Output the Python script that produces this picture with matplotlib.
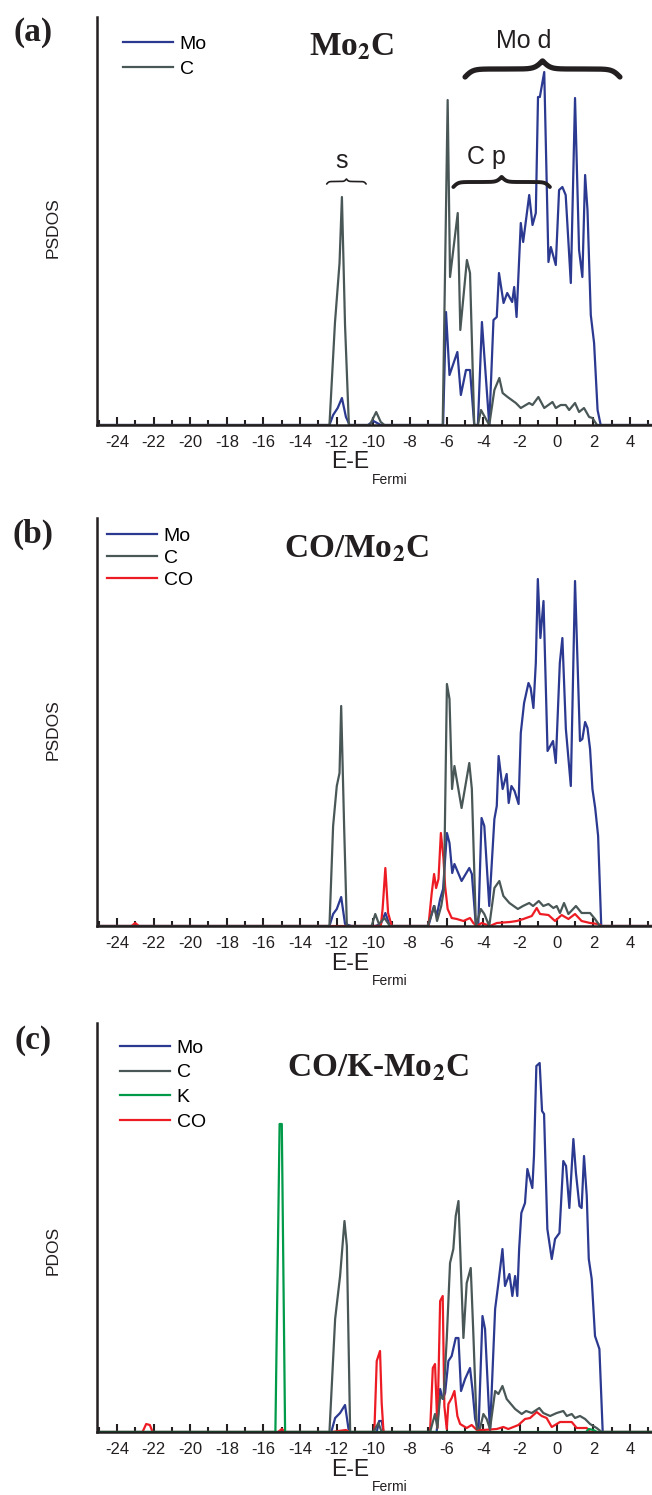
import numpy as np
import matplotlib
matplotlib.use("Agg")
import matplotlib.pyplot as plt

plt.rcParams.update({
    "font.family": "Liberation Sans",
    "mathtext.fontset": "stix",
    "axes.unicode_minus": False,
    "axes.spines.top": False,
    "axes.spines.right": False,
    "axes.linewidth": 1.8,
    "axes.edgecolor": "#231f20",
    "xtick.color": "#231f20",
    "xtick.labelsize": 12,
})

W, H = 652, 1495
MO_COL, C_COL, CO_COL, K_COL = "#2b3990", "#4a5757", "#ed1c24", "#009a49"
INK = "#231f20"

# ---- panel (a): Mo2C ----
a_mo_e = [-25.1, -12.4, -12.2, -11.95, -11.72, -11.5, -11.3, -10.3, -10.0, -9.8, -9.6,
          -6.2, -6.04, -5.85, -5.42, -5.23, -4.95, -4.73, -4.5, -4.3, -4.08, -3.68,
          -3.45, -3.27, -3.15, -2.9, -2.7, -2.43, -2.32, -2.19, -1.96, -1.83, -1.5,
          -1.32, -1.14, -1.02, -0.92, -0.68, -0.45, -0.32, -0.05, 0.13, 0.31, 0.49,
          0.77, 1.0, 1.22, 1.4, 1.55, 1.68, 1.86, 2.04, 2.23, 2.4, 5.2]
a_mo = [0, 0, 0.10, 0.17, 0.27, 0.08, 0, 0, 0.04, 0.02, 0,
        0, 1.13, 0.50, 0.73, 0.30, 0.55, 0.55, 0, 0, 1.03, 0,
        1.05, 1.08, 1.52, 1.22, 1.32, 1.23, 1.38, 1.08, 2.02, 1.83, 2.30,
        2.00, 2.12, 3.28, 3.28, 3.53, 1.63, 1.78, 1.60, 2.35, 2.38, 2.30,
        1.42, 3.27, 1.75, 1.48, 2.50, 2.15, 1.10, 0.82, 0.15, 0, 0]
a_c_e = [-25.1, -12.4, -12.1, -11.85, -11.72, -11.55, -11.34, -10.2, -9.85, -9.6, -9.4,
         -6.22, -5.95, -5.82, -5.4, -5.26, -4.9, -4.73, -4.5, -4.3, -4.13, -3.68,
         -3.4, -3.13, -2.95, -2.68, -2.23, -1.96, -1.5, -1.32, -1.0, -0.68, -0.23,
         -0.05, 0.22, 0.49, 0.68, 1.0, 1.22, 1.49, 1.77, 1.95, 2.2, 5.2]
a_c = [0, 0, 1.02, 1.62, 2.28, 1.0, 0, 0, 0.13, 0.03, 0,
       0, 3.25, 1.48, 2.12, 0.95, 1.65, 1.52, 0, 0, 0.15, 0,
       0.35, 0.47, 0.32, 0.28, 0.22, 0.17, 0.22, 0.20, 0.28, 0.17, 0.23,
       0.17, 0.20, 0.20, 0.15, 0.22, 0.13, 0.17, 0.08, 0.07, 0, 0]

# ---- panel (b): CO/Mo2C ----
b_mo_e = [-25.1, -12.4, -12.2, -12.0, -11.76, -11.55, -11.2, -9.9, -9.6, -9.35, -9.1,
          -7.0, -6.7, -6.55, -6.36, -6.2, -5.99, -5.85, -5.7, -5.58, -5.19, -4.77,
          -4.63, -4.41, -4.28, -4.1, -3.95, -3.68, -3.4, -3.27, -3.17, -2.95, -2.73,
          -2.62, -2.47, -2.3, -2.08, -1.96, -1.78, -1.54, -1.42, -1.27, -1.14, -1.03,
          -0.89, -0.72, -0.5, -0.2, -0.05, 0.17, 0.31, 0.5, 0.77, 1.0, 1.27, 1.4,
          1.55, 1.68, 1.82, 1.95, 2.1, 2.26, 2.43, 5.2]
b_mo = [0, 0, 0.12, 0.17, 0.29, 0.02, 0, 0, 0.02, 0.13, 0,
        0, 0.20, 0.10, 0.27, 0.37, 0.93, 0.83, 0.53, 0.62, 0.45, 0.58,
        0.52, 0, 0, 1.08, 1.00, 0.20, 1.07, 1.20, 1.70, 1.37, 1.52,
        1.23, 1.40, 1.35, 1.22, 1.93, 2.23, 2.43, 2.38, 2.18, 2.63, 3.47,
        2.88, 3.25, 1.75, 1.85, 1.63, 2.63, 2.88, 1.97, 1.40, 3.45, 1.85, 1.87,
        2.04, 1.98, 1.77, 1.37, 1.18, 0.90, 0, 0]
b_c_e = [-25.1, -12.4, -12.2, -12.0, -11.85, -11.76, -11.6, -11.45, -10.1, -9.9, -9.7,
         -9.4, -9.1, -7.04, -6.67, -6.53, -6.3, -6.15, -5.99, -5.85, -5.71, -5.58,
         -5.19, -4.77, -4.63, -4.41, -4.14, -3.95, -3.68, -3.4, -3.13, -2.91, -2.58,
         -2.12, -1.84, -1.5, -1.29, -0.98, -0.73, -0.45, -0.18, 0.0, 0.18, 0.4,
         0.64, 1.05, 1.36, 1.82, 2.09, 2.36, 5.2]
b_c = [0, 0, 1.0, 1.40, 1.53, 2.20, 1.0, 0, 0, 0.12, 0.02,
       0.08, 0, 0, 0.20, 0.05, 0.20, 0.37, 2.42, 2.27, 1.37, 1.60,
       1.18, 1.63, 1.37, 0, 0.17, 0.12, 0, 0.38, 0.45, 0.30, 0.23,
       0.17, 0.20, 0.23, 0.20, 0.25, 0.20, 0.22, 0.18, 0.20, 0.13, 0.23,
       0.12, 0.20, 0.13, 0.13, 0.07, 0, 0]
b_co_e = [-25.1, -23.2, -23.0, -22.8, -9.6, -9.5, -9.35, -9.2, -9.0, -7.0, -6.82,
          -6.69, -6.58, -6.45, -6.32, -6.18, -6.09, -5.95, -5.73, -5.45, -5.09, -4.73,
          -4.55, -4.36, -4.09, -3.64, -3.27, -2.55, -2.18, -1.82, -1.36, -1.09, -0.91,
          -0.45, -0.09, 0.27, 0.64, 1.0, 1.36, 1.82, 2.27, 2.45, 5.2]
b_co = [0, 0, 0.03, 0, 0, 0.17, 0.58, 0.13, 0, 0, 0.33,
        0.52, 0.38, 0.47, 0.93, 0.68, 0.40, 0.17, 0.08, 0.07, 0.05, 0.08,
        0.03, 0, 0.03, 0, 0.03, 0.04, 0.05, 0.07, 0.10, 0.18, 0.12,
        0.11, 0.05, 0.11, 0.07, 0.12, 0.05, 0.03, 0.02, 0, 0]

# ---- panel (c): CO/K-Mo2C ----
c_mo_e = [-25.1, -12.3, -12.09, -11.82, -11.55, -11.36, -11.27, -9.82, -9.69, -9.55, -9.45,
          -6.55, -6.36, -6.22, -6.09, -5.91, -5.73, -5.51, -5.36, -5.22, -5.0, -4.73,
          -4.6, -4.45, -4.27, -4.05, -3.91, -3.64, -3.36, -3.18, -2.96, -2.82, -2.58,
          -2.42, -2.27, -2.15, -2.05, -1.93, -1.73, -1.6, -1.33, -1.24, -1.11, -0.93,
          -0.8, -0.69, -0.51, -0.27, -0.09, 0.15, 0.36, 0.51, 0.69, 0.91, 1.05, 1.24,
          1.36, 1.49, 1.64, 1.75, 1.91, 2.09, 2.33, 2.51, 5.2]
c_mo = [0, 0, 0.14, 0.19, 0.27, 0.03, 0, 0, 0.11, 0.11, 0,
        0, 0.43, 0.33, 0.39, 0.71, 0.76, 0.94, 0.94, 0.41, 0.53, 0.64,
        0.43, 0.13, 0, 1.16, 1.03, 0, 1.23, 1.49, 1.83, 1.46, 1.58,
        1.36, 1.56, 1.36, 1.83, 2.19, 2.29, 2.63, 2.44, 2.76, 3.66, 3.69,
        3.21, 3.18, 2.03, 1.73, 1.93, 1.99, 2.71, 2.66, 2.24, 2.93, 2.59, 2.26,
        2.24, 2.76, 2.36, 1.73, 1.53, 0.96, 0.83, 0, 0]
c_c_e = [-25.1, -12.4, -12.09, -11.82, -11.58, -11.45, -11.27, -10.0, -9.73, -9.55, -6.91,
         -6.64, -6.51, -6.36, -6.18, -6.0, -5.82, -5.64, -5.51, -5.36, -5.09, -4.91,
         -4.69, -4.55, -4.36, -4.18, -4.0, -3.82, -3.64, -3.36, -3.18, -2.96, -2.73,
         -2.27, -1.91, -1.67, -1.36, -0.95, -0.73, -0.36, 0.0, 0.36, 0.55, 0.82,
         1.0, 1.27, 1.55, 1.82, 2.18, 2.45, 5.2]
c_c = [0, 0, 1.13, 1.56, 2.11, 1.86, 0, 0, 0.09, 0, 0,
       0.18, 0.04, 0.36, 0.33, 0.93, 1.69, 1.83, 2.16, 2.31, 0.94, 1.49,
       1.64, 0.99, 0.03, 0.04, 0.18, 0.13, 0.03, 0.41, 0.38, 0.46, 0.33,
       0.23, 0.18, 0.21, 0.19, 0.24, 0.19, 0.16, 0.19, 0.21, 0.16, 0.18,
       0.14, 0.16, 0.13, 0.08, 0.04, 0, 0]
c_k_e = [-25.1, -15.35, -15.12, -15.0, -14.82, 1.6, 1.75, 2.0, 2.2, 5.2]
c_k = [0, 0, 3.08, 3.08, 0, 0, 0.03, 0.02, 0, 0]
c_co_e = [-25.1, -22.6, -22.4, -22.2, -22.05, -15.2, -15.0, -14.8, -12.3, -11.5, -11.3,
          -9.95, -9.82, -9.64, -9.55, -9.45, -6.91, -6.76, -6.64, -6.51, -6.36, -6.22,
          -6.13, -6.0, -5.91, -5.73, -5.58, -5.42, -5.27, -4.91, -4.64, -4.36, -4.0,
          -3.27, -2.91, -2.64, -2.09, -1.73, -1.45, -1.09, -0.82, -0.55, -0.27, 0.18,
          0.82, 1.09, 1.64, 1.82, 5.2]
c_co = [0, 0, 0.08, 0.07, 0, 0, 0.03, 0, 0, 0.02, 0,
        0, 0.71, 0.81, 0.29, 0, 0, 0.64, 0.68, 0.04, 1.31, 1.36,
        0.26, 0.03, 0.28, 0.34, 0.41, 0.16, 0.08, 0.04, 0.07, 0.02, 0.02,
        0.03, 0.05, 0.03, 0.07, 0.13, 0.14, 0.20, 0.16, 0.14, 0.05, 0.10,
        0.10, 0.04, 0.04, 0, 0]

XMIN, XMAX = -25.1, 5.2


def px(x, y):
    """reference pixel -> figure fraction"""
    return x / W, 1 - y / H


def brace(ax, x0, x1, y0, h, lw, beta=40):
    # horizontal curly brace, tip pointing up
    t = np.linspace(0, 0.5, 200)
    half = 1 / (1 + np.exp(-beta * (t - t[0]))) + 1 / (1 + np.exp(-beta * (t - t[-1])))
    yy = np.concatenate([half, half[::-1]])
    xx = np.linspace(x0, x1, 400)
    ax.plot(xx, y0 + (yy - 0.5) * h, color=INK, lw=lw, solid_capstyle="round", clip_on=False)


def setup(ax):
    ax.set_xlim(XMIN, XMAX)
    ax.set_xticks(range(-24, 5, 2))
    ax.set_xticks(range(-25, 6, 2), minor=True)
    ax.tick_params(axis="x", which="major", direction="in", length=6, width=1.5, pad=7)
    ax.tick_params(axis="x", which="minor", direction="in", length=3.5, width=1.5)
    ax.set_yticks([])


fig = plt.figure(figsize=(W / 100, H / 100), dpi=100)
ax_a = fig.add_axes([96.7 / W, 1 - 425 / H, (W - 96.7) / W, 408 / H])
ax_b = fig.add_axes([96.7 / W, 1 - 926 / H, (W - 96.7) / W, 408 / H])
ax_c = fig.add_axes([96.7 / W, 1 - 1432 / H, (W - 96.7) / W, 409 / H])
for ax in (ax_a, ax_b, ax_c):
    setup(ax)
ax_a.set_ylim(0, 4.08)
ax_b.set_ylim(0, 4.08)
ax_c.set_ylim(0, 4.09)

lw = 1.6
ax_a.plot(a_mo_e, a_mo, color=MO_COL, lw=lw, label="Mo")
ax_a.plot(a_c_e, a_c, color=C_COL, lw=lw, label="C")

ax_b.plot(b_mo_e, b_mo, color=MO_COL, lw=lw, label="Mo")
ax_b.plot(b_co_e, b_co, color=CO_COL, lw=lw, label="CO")
ax_b.plot(b_c_e, b_c, color=C_COL, lw=lw, label="C")

ax_c.plot(c_mo_e, c_mo, color=MO_COL, lw=lw, label="Mo")
ax_c.plot(c_co_e, c_co, color=CO_COL, lw=lw, label="CO")
ax_c.plot(c_c_e, c_c, color=C_COL, lw=lw, label="C")
ax_c.plot(c_k_e, c_k, color=K_COL, lw=lw, label="K")


def legend(ax, order, x, ytop, spacing):
    h, l = ax.get_legend_handles_labels()
    d = dict(zip(l, h))
    ax.legend([d[k] for k in order], order, loc="upper left", bbox_to_anchor=px(x, ytop),
              bbox_transform=fig.transFigure, frameon=False, fontsize=14, borderpad=0,
              borderaxespad=0, handlelength=2.57, handletextpad=0.35, labelspacing=spacing)


legend(ax_a, ["Mo", "C"], 123, 35, 0.39)
legend(ax_b, ["Mo", "C", "CO"], 107, 527, 0.23)
legend(ax_c, ["Mo", "C", "K", "CO"], 120, 1039, 0.37)

# panel letters and titles
serif = dict(family="Liberation Serif", weight="bold", color=INK)
for lab, y in [("(a)", 32), ("(b)", 534), ("(c)", 1041)]:
    fig.text(*px(33, y), lab, fontsize=24, ha="center", va="center", **serif)
fig.text(*px(352, 47), r"Mo$_\mathbf{2}$C", fontsize=24, ha="center", va="center", **serif)
fig.text(*px(356, 549), r"CO/Mo$_\mathbf{2}$C", fontsize=24, ha="center", va="center", **serif)
fig.text(*px(378, 1068), r"CO/K-Mo$_\mathbf{2}$C", fontsize=24, ha="center", va="center", **serif)

# axis labels
for ylab, yc in [("PSDOS", 228), ("PSDOS", 730), ("PDOS", 1250)]:
    fig.text(*px(53, yc), ylab, fontsize=12.5, rotation=90, ha="center", va="center", color=INK)
for base in (425, 926, 1432):
    fig.text(*px(369, base + 37), "E-E", fontsize=16.5, ha="right", va="center", color=INK)
    fig.text(*px(372, base + 55), "Fermi", fontsize=10, ha="left", va="center", color=INK)

# band annotations on panel (a)
ax_a.text(-11.73, 2.64, "s", fontsize=18, ha="center", va="center", color=INK)
brace(ax_a, -12.55, -10.4, 2.41, 0.05, 1.2)
ax_a.text(-3.83, 2.68, "C p", fontsize=18, ha="center", va="center", color=INK)
brace(ax_a, -5.64, -0.37, 2.38, 0.10, 2.8)
ax_a.text(-1.78, 3.84, "Mo d", fontsize=18, ha="center", va="center", color=INK)
brace(ax_a, -5.0, 3.45, 3.48, 0.16, 3.8)

fig.savefig("out.png", dpi=100)
